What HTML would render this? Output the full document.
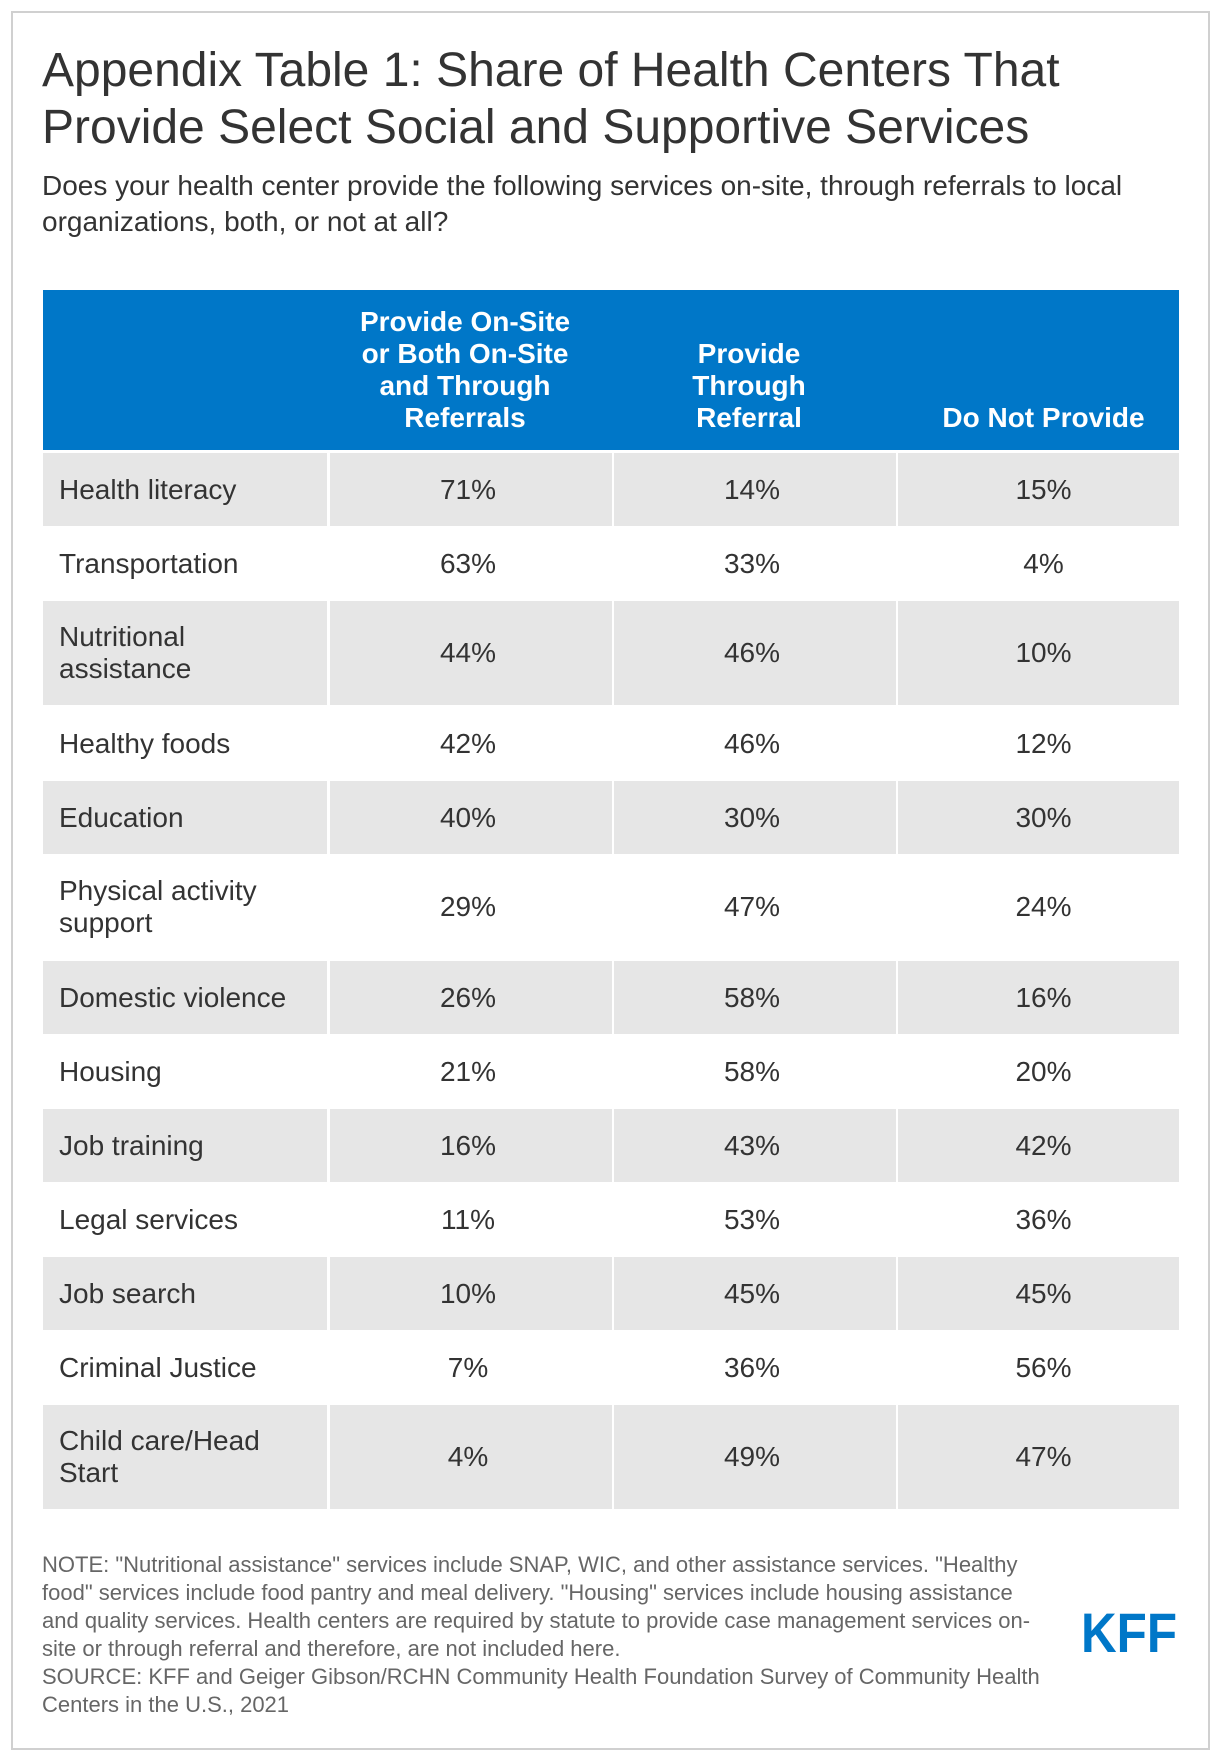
<!DOCTYPE html>
<html><head><meta charset="utf-8">
<style>
*{margin:0;padding:0;box-sizing:border-box}
body{width:1220px;height:1762px;background:#fff;font-family:"Liberation Sans",Arial,sans-serif;position:relative;overflow:hidden}
.frame{position:absolute;left:11px;top:11px;width:1199px;height:1739px;border:2px solid #d0d0d0}
.title{position:absolute;left:42px;top:42px;font-size:48px;line-height:57px;color:#333;width:1140px}
.sub{position:absolute;left:42px;top:168px;font-size:28px;line-height:36px;color:#333;width:1140px}
.hdr{position:absolute;left:43px;top:290px;width:1136px;height:160px;background:#0077c8}
.hcell{position:absolute;bottom:16px;color:#fff;font-weight:bold;font-size:28px;line-height:32px;text-align:center}
.row{position:absolute;left:43px;width:1136px}
.cell{position:absolute;top:0;bottom:0;display:flex;align-items:center;font-size:28px;line-height:32px;color:#333}
.c0{left:0;width:284px;padding-left:16px}
.c1{left:287px;width:282px;justify-content:center;padding-right:6px}
.c2{left:571px;width:282px;justify-content:center;padding-right:6px}
.c3{left:855px;width:281px;justify-content:center;padding-left:10px}
.g .cell{background:#e6e6e6}
.note{position:absolute;left:42px;top:1551px;width:1030px;font-size:22px;line-height:28px;color:#666;white-space:nowrap}
</style></head><body>
<div class="frame"></div>
<div class="title">Appendix Table 1: Share of Health Centers That Provide Select Social and Supportive Services</div>
<div class="sub">Does your health center provide the following services on-site, through referrals to local organizations, both, or not at all?</div>
<div class="hdr">
<div class="hcell" style="left:281px;width:282px">Provide On-Site<br>or Both On-Site<br>and Through<br>Referrals</div>
<div class="hcell" style="left:565px;width:282px">Provide<br>Through<br>Referral</div>
<div class="hcell" style="left:860px;width:281px">Do Not Provide</div>
</div>
<div id="rows"></div>
<div class="note">NOTE: "Nutritional assistance" services include SNAP, WIC, and other assistance services. "Healthy<br>food" services include food pantry and meal delivery. "Housing" services include housing assistance<br>and quality services. Health centers are required by statute to provide case management services on-<br>site or through referral and therefore, are not included here.<br>SOURCE: KFF and Geiger Gibson/RCHN Community Health Foundation Survey of Community Health<br>Centers in the U.S., 2021</div>
<svg style="position:absolute;left:1080px;top:1608px" width="100" height="48">
<text x="1" y="44" font-family="Liberation Sans Narrow, Liberation Sans, sans-serif" font-weight="bold" font-size="56" fill="#0077c8" textLength="96" lengthAdjust="spacingAndGlyphs">KFF</text>
</svg>
<script>
const services=["Health literacy","Transportation","Nutritional<br>assistance","Healthy foods","Education","Physical activity<br>support","Domestic violence","Housing","Job training","Legal services","Job search","Criminal Justice","Child care/Head<br>Start"];
const onSite=[71,63,44,42,40,29,26,21,16,11,10,7,4];
const referral=[14,33,46,46,30,47,58,58,43,53,45,36,49];
const notProvide=[15,4,10,12,30,24,16,20,42,36,45,56,47];
const container=document.getElementById('rows');
let y=453;
services.forEach((s,i)=>{
  const two=s.includes('<br>');
  const h=two?104:73;
  const r=document.createElement('div');
  r.className='row'+(i%2===0?' g':'');
  
  
  r.style.top=y+'px';r.style.height=h+'px';
  const vals=[s,onSite[i]+'%',referral[i]+'%',notProvide[i]+'%'];
  vals.forEach((v,j)=>{
    const c=document.createElement('div');
    c.className='cell c'+j;
    
    
    c.innerHTML=v;
    r.appendChild(c);
  });
  container.appendChild(r);
  y+=h+(two?2:1);
});
</script>
</body></html>
